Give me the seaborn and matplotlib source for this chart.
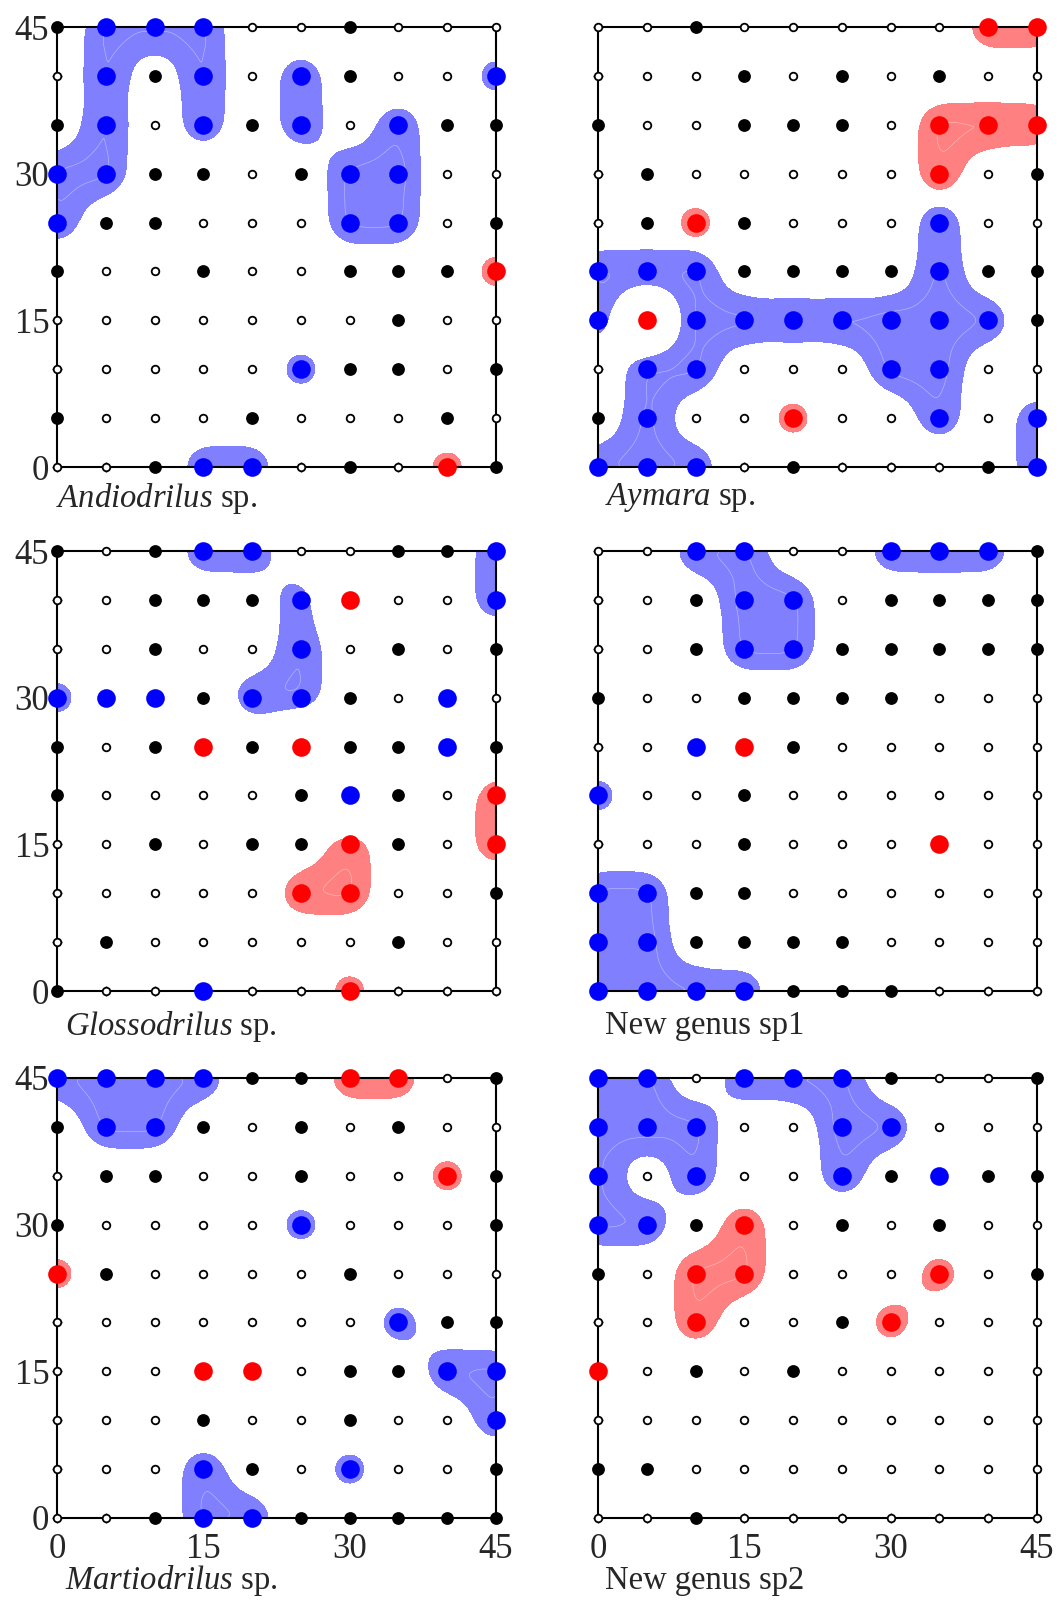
import numpy as np
import pandas as pd
import matplotlib.pyplot as plt
import seaborn as sns

# sampling grid, 5 m between sites
site_x = [0, 5, 10, 15, 20, 25, 30, 35, 40, 45]
site_y = [45, 40, 35, 30, 25, 20, 15, 10, 5, 0]  # row order of the maps below

# o = absent, k = present, b = cold spot, r = hot spot
# upper case B / R = spot that lies inside the interpolated patch
andiodrilus = ["kBBBookooo",
               "oBkBoBkooB",
               "kBoBkBoBkk",
               "BBkkokBBoo",
               "BkkoooBBok",
               "kookookkkR",
               "oooooookoo",
               "oooooBkkok",
               "koookoooko",
               "ookBBokoRk"]

aymara = ["ookoooooRR",
          "oookokokoo",
          "kookkkoRRR",
          "okoooooRok",
          "okRkoooBoo",
          "BBBkkkkBkk",
          "BrBBBBBBBk",
          "oBBoooBBoo",
          "kBooRooBoB",
          "BBBokoookB"]

glossodrilus = ["kokBBookkB",
                "ookkkBrooB",
                "ookooBokok",
                "BbbkBBkobo",
                "kokrkrkkbk",
                "kooookbkoR",
                "ookokkRkoR",
                "oooooRRook",
                "okoooookoo",
                "koobooRooo"]

new_sp1 = ["ooBBooBBBk",
           "ookBBokkkk",
           "ookBBkkkkk",
           "kookkkkooo",
           "oobrkooooo",
           "Bookoooooo",
           "oookoooroo",
           "BBkkoooooo",
           "BBkkkkoooo",
           "BBBBkkkooo"]

martiodrilus = ["BBBBkkRRok",
                "kBBkokokoo",
                "okkookooRk",
                "kooooBoook",
                "Rkooookooo",
                "oooooooBkk",
                "ooorrokkBB",
                "oookookooB",
                "oooBkoBook",
                "ookBBkkkkk"]

new_sp2 = ["BBoBBBkook",
           "BBBooBBooo",
           "BoBooBkbkk",
           "BBkRokokoo",
           "koRRoooRok",
           "ooRookRooo",
           "rokokooooo",
           "oooooooooo",
           "kkoooooooo",
           "ookooooooo"]

titles = [("Andiodrilus", True), ("Aymara", True), ("Glossodrilus", True),
          ("New genus sp1", False), ("Martiodrilus", True), ("New genus sp2", False)]
maps = [andiodrilus, aymara, glossodrilus, new_sp1, martiodrilus, new_sp2]


def map_to_frame(rows):
    recs = []
    for y, row in zip(site_y, rows):
        for x, c in zip(site_x, row):
            recs.append({"x": x, "y": y, "kind": c.lower(), "patch": c.isupper()})
    return pd.DataFrame(recs)


gx = np.linspace(0, 45, 301)
GX, GY = np.meshgrid(gx, gx)


def kernel_sum(pts, bw):
    z = np.zeros_like(GX)
    for x, y in zip(pts["x"], pts["y"]):
        z += np.exp(-((GX - x) ** 2 + (GY - y) ** 2) / (2 * bw ** 2))
    return z


def patch_field(df, kind, other, bw=2.5):
    # smoothed surface of the patch spots, pushed down near isolated spots of the other sign
    own = df[(df["kind"] == kind) & df["patch"]]
    opp = df[(df["kind"] == other) & ~df["patch"]]
    return kernel_sum(own, bw) - kernel_sum(opp, bw)


sns.set_theme(style="white")
plt.rcParams["font.family"] = ["Liberation Serif", "DejaVu Serif"]
plt.rcParams["mathtext.fontset"] = "custom"
plt.rcParams["mathtext.it"] = "Liberation Serif:italic"
plt.rcParams["mathtext.rm"] = "Liberation Serif"

W, H = 1063, 1600
fig = plt.figure(figsize=(W / 100, H / 100), dpi=100)

col_left = [57, 598]
row_bottom = [467, 991, 1518]
size = 439
title_x = [56, 605, 65, 605, 65, 605]
title_y = [498, 1026, 1581]

styles = {
    "o": dict(s=30, color="white", edgecolor="black", linewidth=1.3),
    "k": dict(s=85, color="black", linewidth=0),
    "b": dict(s=180, color="#0000ff", linewidth=0),
    "r": dict(s=180, color="#ff0000", linewidth=0),
}
fills = {"b": ("#8080ff", "r"), "r": ("#ff8080", "b")}

for i, (rows, (name, italic)) in enumerate(zip(maps, titles)):
    r, c = divmod(i, 2)
    ax = fig.add_axes([col_left[c] / W, 1 - row_bottom[r] / H, size / W, 440 / H])
    df = map_to_frame(rows)

    # interpolated hot / cold patches
    for kind, (col, other) in fills.items():
        z = patch_field(df, kind, other)
        if z.max() > 0.85:
            ax.contourf(gx, gx, z, levels=[0.85, 100], colors=[col], zorder=1)
            ax.contour(gx, gx, z, levels=[1.3, 1.7], colors="white",
                       linewidths=0.4, alpha=0.5, zorder=1.1)

    for kind, st in styles.items():
        sub = df[df["kind"] == kind]
        if len(sub):
            sns.scatterplot(data=sub, x="x", y="y", marker="o", ax=ax,
                            clip_on=False, zorder=4, legend=False, **st)

    ax.set_xlim(0, 45)
    ax.set_ylim(0, 45)
    ax.set_xlabel("")
    ax.set_ylabel("")
    ax.set_xticks(site_x)
    ax.set_yticks(site_x)
    ax.set_xticklabels([str(v) if (r == 2 and v % 15 == 0) else "" for v in site_x])
    ax.set_yticklabels([str(v) if (c == 0 and v % 15 == 0) else "" for v in site_x])
    ax.tick_params(axis="x", direction="inout", length=7, width=1, labelsize=25, pad=7, bottom=True)
    ax.tick_params(axis="y", direction="inout", length=7, width=1, labelsize=25, pad=2, left=True)
    for sp in ax.spines.values():
        sp.set_color("black")
        sp.set_linewidth(1.5)

    label = rf"$\mathit{{{name}}}$ sp." if italic else name
    fig.text(title_x[i] / W, 1 - title_y[r] / H, label, fontsize=23.5,
             ha="left", va="center")

fig.savefig("out.png", dpi=100)
